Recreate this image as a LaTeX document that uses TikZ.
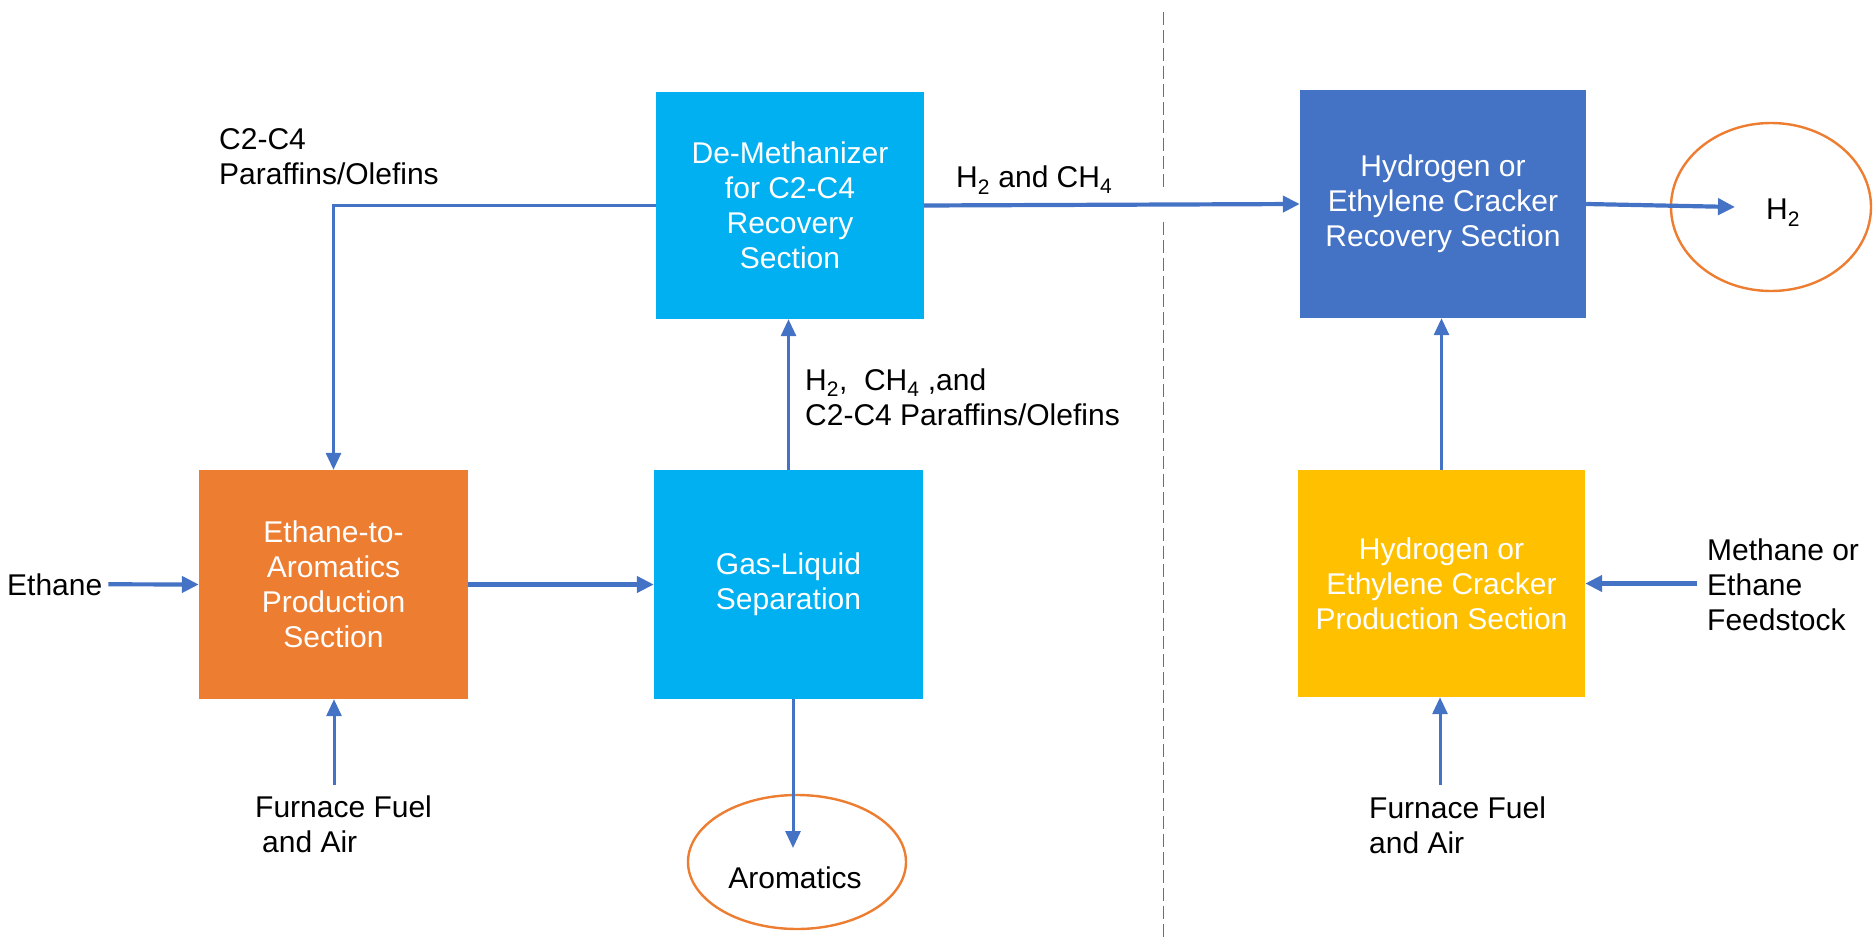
\documentclass[tikz,border=0pt]{standalone}
\usepackage{fontspec}
\setmainfont{Liberation Sans}
\usetikzlibrary{arrows.meta,shapes.geometric}
\definecolor{flowblue}{HTML}{4472C4}
\definecolor{boxorange}{HTML}{ED7D31}
\definecolor{boxcyan}{HTML}{00B0F0}
\definecolor{boxyellow}{HTML}{FFC000}
\tikzset{
  unit/.style={draw=none, minimum width=#1, inner sep=0pt, align=center, text=white,
    font=\fontsize{30}{35}\selectfont},
  lbl/.style={inner sep=0pt, align=left, text=black, font=\fontsize{30}{35}\selectfont},
  flow/.style={draw=flowblue, line width=4.2pt, -{Triangle[length=17pt,width=16pt]}},
  thinflow/.style={draw=flowblue, line width=3pt, -{Triangle[length=17pt,width=15pt]}},
  product/.style={draw=boxorange, line width=2.4pt, ellipse, inner sep=0pt},
  divider/.style={draw=flowblue, line width=1pt, dash pattern=on 13pt off 5pt},
}
\begin{document}
\begin{tikzpicture}[x=1pt,y=-1pt]
\useasboundingbox (0,0) rectangle (1874,944);
% process units
\node[unit=269pt, minimum height=229pt, fill=boxorange] (eta) at (333.5,584.5)
  {Ethane-to-\\Aromatics\\Production\\Section};
\node[unit=269pt, minimum height=229pt, fill=boxcyan] (gas) at (788.5,584.5)
  {Gas-Liquid\\Separation};
\node[unit=268pt, minimum height=227pt, fill=boxcyan] (dem) at (790,205.5)
  {De-Methanizer\\for C2-C4\\Recovery\\Section};
\node[unit=286pt, minimum height=228pt, fill=flowblue] (rec) at (1443,204)
  {Hydrogen or\\Ethylene Cracker\\Recovery Section};
\node[unit=287pt, minimum height=227pt, fill=boxyellow] (prod) at (1441.5,583.5)
  {Hydrogen or\\Ethylene Cracker\\Production Section};
% products
\node[product, minimum width=218pt, minimum height=134pt] (aroell) at (797,862) {};
\node[lbl, anchor=base] (aro) at (795,888) {Aromatics};
\node[product, minimum width=200pt, minimum height=168pt] (h2ell) at (1771,207) {};
\node[lbl, anchor=base west] (h2) at (1766,220) {H\textsubscript{2}};
% labels
\node[lbl, anchor=base west] (ethane) at (7,595) {Ethane};
\node[lbl, anchor=north west] (c24) at (219,128.5) {C2-C4\\Paraffins/Olefins};
\node[lbl, anchor=base west] (h2ch4) at (956,188) {H\textsubscript{2} and CH\textsubscript{4}};
\node[lbl, anchor=north west] (mix) at (805,368.5) {H\textsubscript{2},\ \ CH\textsubscript{4} ,and\\C2-C4 Paraffins/Olefins};
\node[lbl, anchor=north west] (fuelL) at (255,795.5) {Furnace Fuel\\\hspace*{7pt}and Air};
\node[lbl, anchor=north west] (fuelR) at (1369,796.5) {Furnace Fuel\\and Air};
\node[lbl, anchor=north west] (meth) at (1707,538.5) {Methane or\\Ethane\\Feedstock};
% connector ends
\coordinate (fuelLtop) at (334,785);
\coordinate (fuelRtop) at (1440,785);
\coordinate (aroend) at (793,848);
\coordinate (h2end) at (1735,207);
% connectors
\draw[flow, shorten <=6pt] (ethane.east) -- (eta.west);
\draw[flow] (eta.east) -- (gas.west);
\draw[thinflow] (gas.north) -- (gas.north |- dem.south);
\draw[thinflow] (dem.west) -| (eta.north);
\draw[flow] (dem.east) -- (rec.west);
\draw[flow] (rec.east) -- (h2end);
\draw[thinflow] (prod.north) -- (prod.north |- rec.south);
\draw[flow, shorten <=10pt] (meth.west |- prod.east) -- (prod.east);
\draw[thinflow] (fuelLtop) -- (fuelLtop |- eta.south);
\draw[thinflow] (fuelRtop) -- (fuelRtop |- prod.south);
\draw[thinflow] (aroend |- gas.south) -- (aroend);
% section divider
\draw[divider] (1163,12) -- (1163,190) (1163,222) -- (1163,938);
\end{tikzpicture}
\end{document}
